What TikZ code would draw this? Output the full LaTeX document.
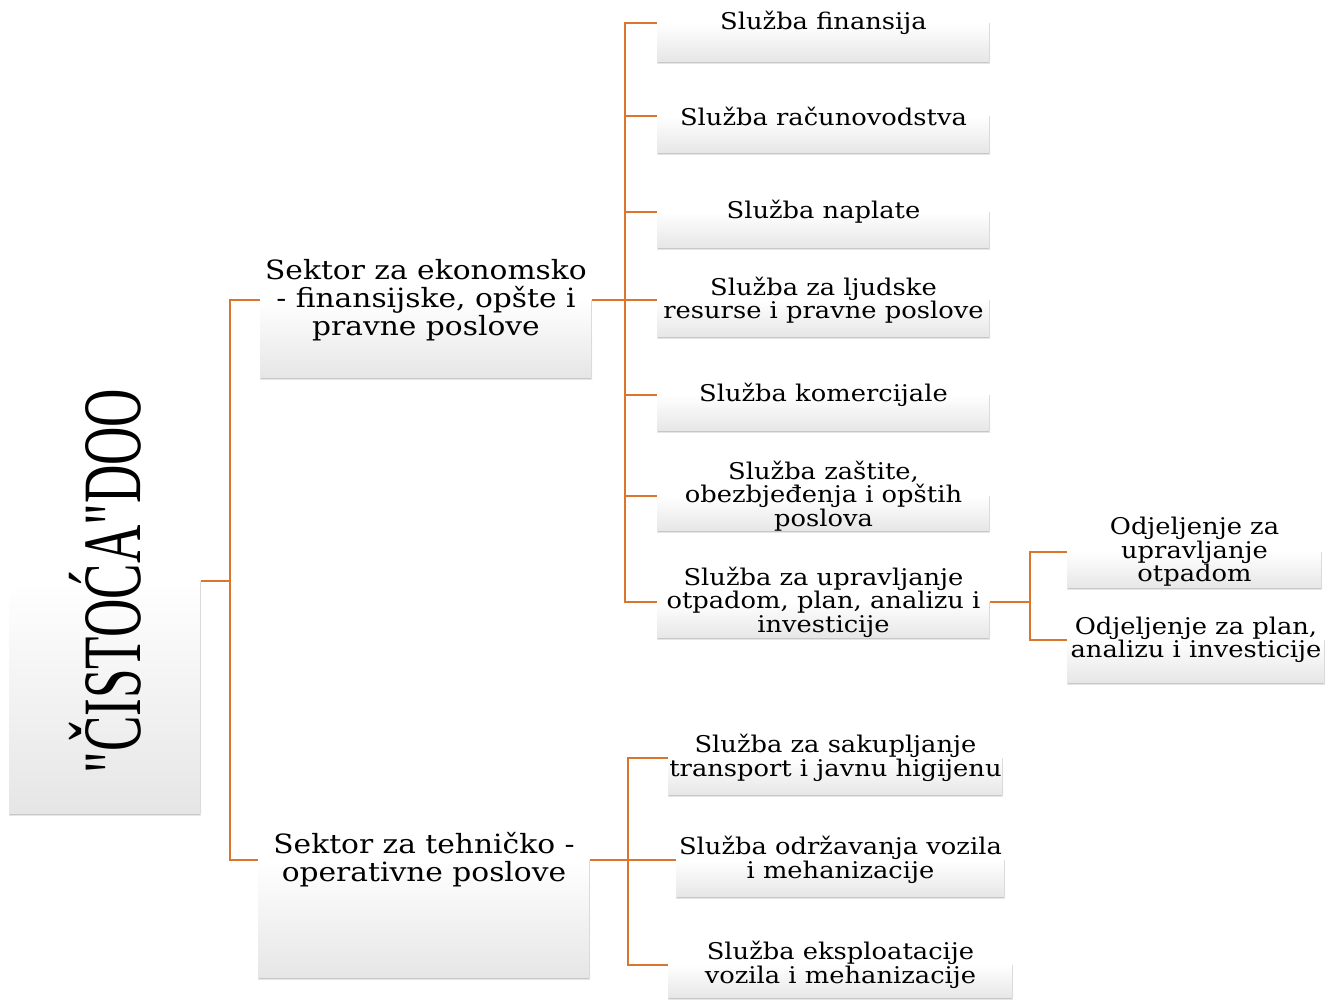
\documentclass[tikz,border=0pt]{standalone}
\usepackage{fontspec}
\usepackage{graphicx}
\setmainfont[FakeStretch=1.12]{DejaVu Serif}
\newfontfamily\rootfont{Liberation Serif}
\definecolor{connc}{RGB}{219,116,45}
\pgfdeclareverticalshading{boxshade}{100bp}{color(0bp)=(black!17); color(25bp)=(black!10); color(50bp)=(white); color(100bp)=(white)}
\tikzset{
  gbox/.style={rectangle, inner sep=0pt, shade, shading=boxshade, align=center,
    font=\fontsize{23}{23.5}\selectfont},
  sbox/.style={gbox, font=\fontsize{26.5}{28}\selectfont},
  link/.style={draw=connc, line width=2.6pt},
  bevel/.style={draw=black!22, line width=1.4pt},
}
\begin{document}
\begin{tikzpicture}[x=1pt,y=-1pt]
\useasboundingbox (0,0) rectangle (1333,999);
% root
\node[gbox, minimum width=192pt, minimum height=468pt] (root) at (105,581)
  {\rotatebox{90}{\scalebox{0.64}[1]{\rootfont\fontsize{83}{83}\selectfont "ČISTOĆA"DOO}}};
% sectors
\node[sbox, minimum width=332pt, minimum height=158pt] (s1) at (426,300)
  {Sektor za ekonomsko\\- finansijske, opšte i\\pravne poslove};
\node[sbox, minimum width=332pt, minimum height=238pt] (s2) at (424,860)
  {Sektor za tehničko -\\operativne poslove};
% group 1
\node[gbox, minimum width=333pt, minimum height=80pt] (l1) at (823.5,23) {Služba finansija};
\node[gbox, minimum width=333pt, minimum height=76pt] (l2) at (823.5,116) {Služba računovodstva};
\node[gbox, minimum width=333pt, minimum height=74pt] (l3) at (823.5,212) {Služba naplate};
\node[gbox, minimum width=333pt, minimum height=76pt] (l4) at (823.5,300) {Služba za ljudske\\resurse i pravne poslove};
\node[gbox, minimum width=333pt, minimum height=74pt] (l5) at (823.5,395) {Služba komercijale};
\node[gbox, minimum width=333pt, minimum height=72pt] (l6) at (823.5,496) {Služba zaštite,\\obezbjeđenja i opštih\\poslova};
\node[gbox, minimum width=333pt, minimum height=74pt] (l7) at (823.5,602) {Služba za upravljanje\\otpadom, plan, analizu i\\investicije};
% departments
\node[gbox, minimum width=255pt, minimum height=74pt] (o1) at (1194.5,552) {Odjeljenje za\\upravljanje\\otpadom};
\node[gbox, minimum width=258pt, minimum height=88pt] (o2) at (1196,640) {Odjeljenje za plan,\\analizu i investicije};
% group 2
\node[gbox, minimum width=335pt, minimum height=76pt] (g1) at (835.5,758) {Služba za sakupljanje\\transport i javnu higijenu};
\node[gbox, minimum width=329pt, minimum height=76pt] (g2) at (840.5,860) {Služba održavanja vozila\\i mehanizacije};
\node[gbox, minimum width=345pt, minimum height=68pt] (g3) at (840.5,965) {Služba eksploatacije\\vozila i mehanizacije};
% bevels
\foreach \n in {root,s1,s2,l1,l2,l3,l4,l5,l6,l7,o1,o2,g1,g2,g3}{
  \draw[bevel] ([xshift=1pt,yshift=0.7pt]\n.south west) -- ([xshift=-1pt,yshift=0.7pt]\n.south east);
  \draw[draw=black!14, line width=1.2pt] ([xshift=-0.6pt,yshift=1pt]\n.south east) -- ([xshift=-0.6pt]\n.east);
}
% junctions
\coordinate (j0) at (230,581);
\coordinate (j1) at (625,300);
\coordinate (j2) at (1030,602);
\coordinate (j3) at (628,860);
% connectors
\draw[link] (root.east) -- (j0);
\draw[link] (j0) |- (s1.west);
\draw[link] (j0) |- (s2.west);
\draw[link] (s1.east) -- (j1);
\foreach \n in {l1,l2,l3,l4,l5,l6,l7}{\draw[link] (j1) |- (\n.west);}
\draw[link] (l7.east) -- (j2);
\foreach \n in {o1,o2}{\draw[link] (j2) |- (\n.west);}
\draw[link] (s2.east) -- (j3);
\foreach \n in {g1,g2,g3}{\draw[link] (j3) |- (\n.west);}
\end{tikzpicture}
\end{document}
